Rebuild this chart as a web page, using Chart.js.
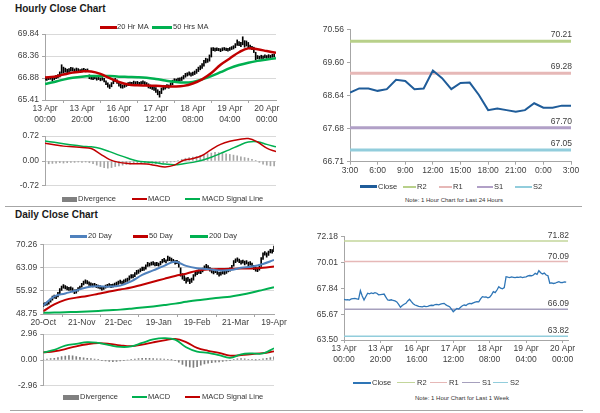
<!DOCTYPE html>
<html>
<head>
<meta charset="utf-8">
<script src="https://cdn.jsdelivr.net/npm/chart.js@4.4.1/dist/chart.umd.min.js"></script>
<style>
  body { margin: 0; width: 600px; height: 413px; background: #fff; position: relative; overflow: hidden;
         font-family: "Liberation Sans", Arial, sans-serif; }
  canvas { position: absolute; }
  .title { position: absolute; left: 15px; font-weight: bold; font-size: 10px; color: #1a1a1a; line-height: 1; }
  .lg { position: absolute; font-size: 7.5px; color: #333; line-height: 1; white-space: nowrap; }
  .mk { position: absolute; }
  .note { position: absolute; font-size: 6px; color: #333; line-height: 1; white-space: nowrap; transform: translateX(-50%); }
  .rule { position: absolute; height: 1px; background: #a6a6a6; }
</style>
</head>
<body>
<div class="title" style="top:4px">Hourly Close Chart</div>
<div class="title" style="top:210px">Daily Close Chart</div>
<div class="rule" style="top:206px;left:5px;width:577px"></div>
<div class="rule" style="top:410px;left:10px;width:573px"></div>
<div class="note" style="left:454px;top:197px">Note: 1 Hour Chart for Last 24 Hours</div>
<div class="note" style="left:462px;top:395px">Note: 1 Hour Chart for Last 1 Week</div>
<script>
// ---- hourly (last week) ----
const hourTickPos = [0, 20, 40, 60, 80, 100, 120];
const hourTickLabels = [['13 Apr', '00:00'], ['13 Apr', '20:00'], ['16 Apr', '16:00'], ['17 Apr', '12:00'],
                        ['18 Apr', '08:00'], ['19 Apr', '04:00'], ['20 Apr', '00:00']];
const hourPriceTicks = [65.41, 66.88, 68.36, 69.84];
const hourMacdTicks = [-0.72, 0.00, 0.72];

const hourLo = [66.74, 66.72, 66.78, 66.80, 66.70, 66.78, 66.84, 66.90, 66.96, 67.20,
  67.22, 67.28, 67.18, 67.26, 67.34, 67.36, 67.28, 67.36, 67.32, 67.24,
  67.30, 67.34, 67.30, 67.32, 66.84, 66.80, 66.78, 66.82, 66.74, 66.78,
  66.70, 66.74, 66.62, 66.44, 66.28, 66.18, 66.30, 66.50, 66.64, 66.52,
  66.34, 66.22, 66.20, 66.26, 66.32, 66.38, 66.44, 66.44, 66.48, 66.46,
  66.48, 66.40, 66.46, 66.50, 66.44, 66.36, 66.22, 66.18, 66.12, 66.06,
  65.92, 65.76, 65.60, 65.84, 66.08, 66.14, 66.22, 66.20, 66.30, 66.44,
  66.62, 66.62, 66.68, 66.68, 66.72, 66.82, 66.94, 67.02, 67.08, 67.02,
  67.06, 67.12, 67.20, 67.32, 67.44, 67.54, 67.68, 67.90, 67.94, 68.02,
  68.30, 68.72, 68.70, 68.72, 68.72, 68.66, 68.72, 68.76, 68.72, 68.70,
  68.74, 68.80, 68.84, 68.92, 69.08, 69.06, 69.00, 69.12, 68.96, 69.04,
  68.92, 68.84, 68.80, 68.60, 68.12, 68.18, 68.16, 68.20, 68.18, 68.24,
  68.20, 68.26, 68.24, 68.28, 68.30];
const hourHi = [66.95, 66.92, 66.98, 66.96, 66.90, 67.00, 67.06, 67.12, 67.30, 67.78,
  67.62, 67.55, 67.48, 67.52, 67.60, 67.58, 67.50, 67.56, 67.52, 67.46,
  67.50, 67.54, 67.48, 67.50, 67.10, 66.98, 66.94, 66.98, 66.92, 66.94,
  66.90, 66.92, 66.86, 66.70, 66.56, 66.44, 66.58, 66.80, 66.86, 66.76,
  66.60, 66.48, 66.42, 66.46, 66.52, 66.58, 66.62, 66.60, 66.68, 66.64,
  66.66, 66.60, 66.64, 66.70, 66.64, 66.58, 66.50, 66.42, 66.38, 66.32,
  66.24, 66.10, 66.00, 66.22, 66.40, 66.38, 66.44, 66.42, 66.56, 66.74,
  66.84, 66.82, 66.88, 66.90, 66.96, 67.06, 67.20, 67.24, 67.30, 67.24,
  67.28, 67.36, 67.48, 67.62, 67.72, 67.86, 68.08, 68.22, 68.18, 68.44,
  68.92, 68.94, 68.90, 68.92, 68.88, 68.86, 68.92, 68.94, 68.90, 68.88,
  68.94, 69.00, 69.06, 69.20, 69.45, 69.34, 69.28, 69.66, 69.40, 69.38,
  69.28, 69.10, 69.02, 68.96, 68.62, 68.40, 68.36, 68.42, 68.38, 68.44,
  68.40, 68.46, 68.42, 68.48, 68.50];
// moving averages sampled every 5 hours
const ma20Hr = [66.93, 66.98, 67.12, 67.25, 67.33, 67.33, 67.17, 66.88, 66.62, 66.45,
  66.40, 66.38, 66.36, 66.33, 66.32, 66.36, 66.52, 66.80, 67.22, 67.78,
  68.20, 68.62, 68.88, 68.82, 68.70, 68.58];
const ma50Hr = [66.48, 66.62, 66.78, 66.90, 66.98, 67.02, 67.03, 67.02, 66.98, 66.96,
  66.94, 66.90, 66.82, 66.72, 66.63, 66.58, 66.62, 66.80, 67.02, 67.28,
  67.55, 67.76, 67.92, 68.04, 68.13, 68.22];
const hourMacd = [0.51, 0.47, 0.43, 0.41, 0.39, 0.36, 0.20, 0.04, -0.04, -0.07,
  -0.08, -0.09, -0.13, -0.17, -0.12, 0.02, 0.07, 0.16, 0.33, 0.48,
  0.57, 0.62, 0.65, 0.55, 0.37, 0.27];
const hourSignal = [0.58, 0.54, 0.50, 0.46, 0.43, 0.41, 0.36, 0.27, 0.17, 0.08,
  0.00, -0.03, -0.05, -0.09, -0.11, -0.08, -0.04, 0.02, 0.11, 0.22,
  0.33, 0.45, 0.55, 0.56, 0.48, 0.41];
// divergence sampled every 2 hours
const hourDiv = [-0.07, -0.08, -0.07, -0.06, -0.05, -0.06, -0.05, -0.04, -0.04, -0.03,
  -0.04, -0.03, -0.05, -0.08, -0.12, -0.16, -0.19, -0.21, -0.19, -0.16,
  -0.14, -0.12, -0.10, -0.09, -0.08, -0.08, -0.07, -0.06, -0.06, -0.07,
  -0.08, -0.08, -0.07, -0.05, -0.03, -0.01, 0.02, 0.05, 0.08, 0.10,
  0.11, 0.13, 0.15, 0.18, 0.21, 0.23, 0.25, 0.24, 0.22, 0.21,
  0.19, 0.17, 0.15, 0.12, 0.10, 0.08, 0.05, 0.01, -0.04, -0.09,
  -0.12, -0.14, -0.14];

// ---- last 24 hours ----
const dayTickLabels = ['3:00', '6:00', '9:00', '12:00', '15:00', '18:00', '21:00', '0:00', '3:00'];
const dayCloseTicks = [66.71, 67.68, 68.64, 69.60, 70.56];
const dayClose = [68.72, 68.84, 68.84, 68.77, 68.82, 69.09, 69.06, 68.82, 68.84, 69.36,
  69.14, 68.82, 69.00, 69.01, 68.65, 68.21, 68.26, 68.21, 68.16, 68.21,
  68.41, 68.28, 68.28, 68.34, 68.34];
const dayLevels = [70.21, 69.28, 67.70, 67.05]; // R2, R1, S1, S2

// ---- last week, 1 hour close ----
const weekCloseTicks = [63.50, 65.67, 67.84, 70.01, 72.18];
const weekClose = [66.92, 66.88, 66.90, 66.86, 66.95, 66.98, 67.00, 66.96, 66.92, 67.64,
  67.20, 66.86, 67.15, 67.43, 67.38, 67.45, 67.40, 67.48, 67.43, 67.30,
  67.32, 67.34, 67.36, 67.10, 66.86, 66.84, 66.88, 66.82, 66.78, 66.70,
  66.50, 66.25, 66.40, 66.50, 66.58, 66.78, 66.92, 66.72, 66.55, 66.44,
  66.38, 66.32, 66.30, 66.28, 66.34, 66.30, 66.32, 66.38, 66.42, 66.40,
  66.48, 66.50, 66.46, 66.52, 66.55, 66.58, 66.45, 66.36, 66.30, 66.10,
  65.88, 66.02, 66.15, 66.10, 66.25, 66.38, 66.44, 66.40, 66.52, 66.58,
  66.55, 66.62, 66.68, 66.72, 66.70, 66.95, 67.14, 67.10, 67.12, 67.05,
  67.10, 67.30, 67.56, 67.48, 67.70, 67.98, 67.85, 67.80, 67.90, 68.82,
  68.78, 68.75, 68.80, 68.77, 68.74, 68.78, 68.76, 68.80, 68.75, 68.78,
  68.80, 68.88, 68.92, 68.90, 68.96, 69.10, 69.02, 69.32, 69.15, 69.05,
  69.12, 68.96, 68.90, 68.27, 68.30, 68.25, 68.27, 68.35, 68.40, 68.32,
  68.33, 68.38, 68.36];
const weekLevels = [71.82, 70.09, 66.09, 63.82]; // R2, R1, S1, S2

// ---- daily ----
const dailyTickPos = [0, 21, 41, 63, 84, 105, 126];
const dailyTickLabels = ['20-Oct', '21-Nov', '21-Dec', '19-Jan', '19-Feb', '21-Mar', '19-Apr'];
const dailyPriceTicks = [48.75, 55.92, 63.09, 70.26];
const dailyMacdTicks = [-2.96, 0.00, 2.96];
const dayLo = [51.0, 51.4, 51.5, 51.8, 52.4, 53.0, 53.6, 53.5, 54.0, 55.0,
  56.0, 56.7, 56.5, 56.2, 56.0, 56.1, 55.6, 55.0, 55.2, 55.8,
  56.4, 57.0, 57.7, 58.2, 58.0, 57.6, 57.4, 57.1, 57.3, 56.9,
  56.7, 56.5, 56.1, 56.3, 56.7, 57.0, 57.1, 56.9, 57.0, 57.3,
  57.6, 57.9, 58.2, 57.9, 58.2, 58.6, 58.8, 59.2, 59.8, 59.9,
  60.3, 61.0, 61.3, 61.7, 62.1, 62.2, 62.6, 63.4, 63.5, 63.8,
  63.9, 63.6, 63.7, 63.5, 63.9, 64.5, 64.8, 64.5, 65.1, 65.2,
  65.0, 64.6, 64.1, 64.3, 63.2, 60.4, 59.5, 59.0, 58.3, 58.8,
  58.1, 58.5, 59.2, 60.4, 60.9, 61.3, 61.2, 61.7, 62.4, 62.9,
  62.5, 62.0, 61.4, 61.1, 61.5, 61.0, 60.4, 60.7, 61.1, 61.0,
  61.3, 61.7, 62.0, 62.5, 63.5, 64.6, 65.0, 64.6, 64.1, 64.4,
  63.9, 64.2, 63.6, 63.8, 63.2, 62.4, 62.0, 61.8, 62.3, 63.4,
  65.6, 66.9, 66.3, 66.8, 67.6, 67.5, 68.0];
const dayHi = [52.1, 52.3, 52.4, 52.8, 53.5, 54.3, 54.6, 54.5, 55.4, 56.6,
  57.4, 57.8, 57.5, 57.2, 57.0, 57.1, 56.8, 56.2, 56.3, 56.9,
  57.4, 58.2, 58.9, 59.3, 59.1, 58.7, 58.4, 58.1, 58.2, 57.9,
  57.7, 57.5, 57.1, 57.3, 57.7, 57.9, 58.1, 57.9, 58.0, 58.3,
  58.6, 58.9, 59.2, 58.9, 59.3, 59.6, 59.8, 60.5, 60.9, 60.9,
  61.5, 62.2, 62.4, 62.8, 63.2, 63.2, 63.9, 64.7, 64.5, 64.8,
  64.9, 64.6, 64.7, 64.5, 65.0, 65.6, 65.9, 65.5, 66.6, 66.3,
  66.0, 65.6, 65.2, 65.3, 64.9, 63.0, 61.2, 60.6, 59.9, 60.1,
  59.5, 59.8, 60.9, 61.6, 62.1, 62.4, 62.3, 62.9, 63.6, 64.1,
  63.7, 63.1, 62.7, 62.2, 62.6, 62.2, 61.6, 61.8, 62.2, 62.0,
  62.4, 62.7, 63.0, 63.8, 65.2, 65.8, 66.1, 65.7, 65.2, 65.4,
  65.1, 65.2, 64.8, 64.9, 64.5, 63.8, 63.2, 63.0, 63.9, 66.2,
  67.6, 68.0, 67.6, 68.2, 68.7, 68.6, 69.7];
// moving averages and MACD sampled every 6 days
const ma20Day = [51.3, 54.2, 55.1, 56.0, 57.0, 57.3, 57.2, 57.5, 58.8, 60.8,
  62.2, 63.6, 64.9, 63.6, 62.9, 62.6, 62.2, 62.3, 63.0, 63.4, 64.2, 65.4];
const ma50Day = [49.6, 51.7, 53.1, 53.8, 54.3, 55.0, 55.7, 56.3, 56.9, 57.8,
  58.7, 59.6, 60.5, 61.2, 62.1, 62.5, 62.6, 62.7, 62.8, 62.8, 63.0, 63.4];
const ma200Day = [49.15, 49.2, 49.3, 49.4, 49.55, 49.7, 49.9, 50.1, 50.4, 50.75,
  51.1, 51.5, 51.95, 52.5, 53.0, 53.4, 53.8, 54.1, 54.7, 55.4, 56.2, 57.0];
const dailyMacd = [0.87, 1.15, 1.65, 1.85, 2.05, 1.95, 1.70, 1.50, 1.55, 1.95,
  2.35, 2.50, 2.32, 1.45, 0.95, 0.82, 0.55, 0.25, 0.65, 0.75, 0.75, 1.35];
const dailySignal = [0.87, 1.00, 1.25, 1.57, 1.80, 1.92, 1.85, 1.68, 1.58, 1.76,
  2.02, 2.25, 2.42, 2.05, 1.38, 1.05, 0.82, 0.50, 0.55, 0.68, 0.78, 0.98];
// divergence sampled every 2 days
const dailyDiv = [0.05, 0.10, 0.15, 0.20, 0.28, 0.38, 0.45, 0.50, 0.48, 0.40,
  0.30, 0.25, 0.20, 0.15, 0.10, 0.05, -0.05, -0.10, -0.15, -0.18,
  -0.15, -0.10, -0.05, 0.00, 0.05, 0.10, 0.15, 0.18, 0.20, 0.18,
  0.15, 0.14, 0.12, 0.10, 0.08, 0.02, -0.05, -0.25, -0.50, -0.70,
  -0.80, -0.85, -0.75, -0.60, -0.45, -0.35, -0.30, -0.25, -0.22, -0.15,
  -0.10, -0.05, 0.05, 0.12, 0.15, 0.12, 0.08, 0.05, 0.02, 0.05,
  0.12, 0.20, 0.28, 0.35];

const RED = '#c00000', GREEN = '#00b050', BLUE = '#4f81bd';
const R2C = '#b8d08a', R1C = '#e6b8b7', S1C = '#b1a0c7', S2C = '#92cddc';

Chart.defaults.font.family = '"Liberation Sans", Arial, sans-serif';
Chart.defaults.font.size = 8.5;
Chart.defaults.color = '#404040';
Chart.defaults.animation = false;
Chart.defaults.events = [];
Chart.defaults.plugins.legend.display = false;
Chart.defaults.plugins.tooltip.enabled = false;

const pts = (vals, step) => vals.map((v, i) => ({x: i * step, y: v}));
const range = (lo, hi) => lo.map((v, i) => ({x: i, y: [v, hi[i]]}));
const flat = (v, max) => [{x: 0, y: v}, {x: max, y: v}];

function line(data, color, width, tension) {
  return {type: 'line', data, borderColor: color, borderWidth: width, pointRadius: 0,
          tension: tension === undefined ? 0.4 : tension, fill: false};
}
function bar(data, color) {
  return {type: 'bar', data, backgroundColor: color, barThickness: 1};
}

function makeCanvas(left, top, w, h) {
  const c = document.createElement('canvas');
  c.width = w; c.height = h;
  c.style.left = left + 'px'; c.style.top = top + 'px';
  c.style.width = w + 'px'; c.style.height = h + 'px';
  document.body.appendChild(c);
  return c;
}

function yAxis(ticks, width, gridOn) {
  return {
    min: ticks[0], max: ticks[ticks.length - 1],
    afterBuildTicks: s => { s.ticks = ticks.map(v => ({value: v})); },
    afterFit: s => { s.width = width; },
    ticks: {callback: v => v.toFixed(2), padding: 3},
    grid: {color: '#d9d9d9', drawOnChartArea: gridOn, tickLength: 3, tickColor: '#a6a6a6'},
    border: {color: '#a6a6a6'}
  };
}
function xAxis(max, pos, labels, height) {
  return {
    type: 'linear', min: 0, max: max, offset: false,
    afterBuildTicks: s => { s.ticks = pos.map(v => ({value: v})); },
    afterFit: s => { s.height = height; },
    ticks: {callback: (v, i) => labels[i], autoSkip: false, maxRotation: 0, padding: 1,
            font: {lineHeight: 1.2}},
    grid: {drawOnChartArea: false, tickLength: 3, tickColor: '#a6a6a6'},
    border: {color: '#a6a6a6'}
  };
}
function hiddenX(max) {
  return {type: 'linear', min: 0, max: max, offset: false, display: false};
}

const levelLabels = {
  id: 'levelLabels',
  afterDatasetsDraw(chart, args, opts) {
    const {ctx, chartArea, scales} = chart;
    ctx.save();
    ctx.font = '8.5px "Liberation Sans", Arial, sans-serif';
    ctx.fillStyle = '#404040';
    ctx.textAlign = 'right';
    ctx.textBaseline = 'alphabetic';
    opts.values.forEach(v => ctx.fillText(v.toFixed(2), chartArea.right + 1, scales.y.getPixelForValue(v) - opts.gap));
    ctx.restore();
  }
};

function build(canvas, datasets, scales, padding, extra) {
  return new Chart(canvas, {
    type: 'line',
    data: {datasets},
    options: Object.assign({responsive: false, layout: {padding}, scales}, extra || {}),
    plugins: extra ? [levelLabels] : []
  });
}

// hourly price
build(makeCanvas(0, 26, 290, 100), [
  line(pts(ma20Hr, 5), RED, 2.5),
  line(pts(ma50Hr, 5), GREEN, 2.5),
  bar(range(hourLo, hourHi), '#000')
], {x: xAxis(125, hourTickPos, hourTickLabels, 26), y: yAxis(hourPriceTicks, 45, true)},
{left: 0, right: 14, top: 8, bottom: 0});

// hourly MACD
build(makeCanvas(0, 128, 290, 66), [
  line(pts(hourMacd, 5), RED, 1.5),
  line(pts(hourSignal, 5), GREEN, 1.5),
  bar(pts(hourDiv, 2), '#a6a6a6')
], {x: hiddenX(125), y: yAxis(hourMacdTicks, 45, true)},
{left: 0, right: 14, top: 7.7, bottom: 6.3});

// last 24 hours
build(makeCanvas(290, 20, 310, 165), [
  line(pts(dayClose, 1), '#1f5c99', 2, 0),
  line(flat(dayLevels[0], 24), R2C, 3),
  line(flat(dayLevels[1], 24), R1C, 3),
  line(flat(dayLevels[2], 24), S1C, 3),
  line(flat(dayLevels[3], 24), S2C, 3)
], {x: xAxis(24, [0, 3, 6, 9, 12, 15, 18, 21, 24], dayTickLabels, 23.3), y: yAxis(dayCloseTicks, 60, false)},
{left: 0, right: 29, top: 9.3, bottom: 0},
{plugins: {levelLabels: {values: dayLevels, gap: 4}}});

// last week hourly close
build(makeCanvas(290, 228, 310, 138), [
  line(pts(weekClose, 1), '#2e75b6', 1.3, 0),
  line(flat(weekLevels[0], 123), '#c3d69b', 1.5),
  line(flat(weekLevels[1], 123), R1C, 1.5),
  line(flat(weekLevels[2], 123), '#a6a0bd', 1.5),
  line(flat(weekLevels[3], 123), S2C, 1.5)
], {x: xAxis(123, hourTickPos, hourTickLabels, 26), y: yAxis(weekCloseTicks, 54, false)},
{left: 0, right: 32, top: 8.7, bottom: 0},
{plugins: {levelLabels: {values: weekLevels, gap: 3}}});

// daily price
build(makeCanvas(0, 236, 290, 92), [
  line(pts(ma20Day, 6), BLUE, 2),
  line(pts(ma50Day, 6), RED, 2),
  line(pts(ma200Day, 6), GREEN, 2),
  bar(range(dayLo, dayHi), '#000')
], {x: xAxis(126, dailyTickPos, dailyTickLabels, 14), y: yAxis(dailyPriceTicks, 43.3, true)},
{left: 0, right: 16, top: 8.3, bottom: 0});

// daily MACD
build(makeCanvas(0, 326, 290, 68), [
  line(pts(dailyMacd, 6), GREEN, 1.8),
  line(pts(dailySignal, 6), RED, 1.8),
  bar(pts(dailyDiv, 2), '#7f7f7f')
], {x: hiddenX(126), y: yAxis(dailyMacdTicks, 43.3, true)},
{left: 0, right: 16, top: 5.7, bottom: 5.7});

// legends
function legend(cy, items) {
  items.forEach(([x, w, color, text, kind, tx]) => {
    const m = document.createElement('div');
    m.className = 'mk';
    const h = kind === 'box' ? 5 : kind;
    m.style.cssText = `left:${x}px;top:${cy - h / 2}px;width:${w}px;height:${h}px;background:${color}`;
    document.body.appendChild(m);
    const t = document.createElement('div');
    t.className = 'lg';
    t.textContent = text;
    t.style.left = tx + 'px';
    t.style.top = (cy - 4) + 'px';
    document.body.appendChild(t);
  });
}
legend(27, [[100, 17, RED, '20 Hr MA', 3, 117], [152, 20, GREEN, '50 Hrs MA', 3, 173]]);
legend(199, [[62, 15, '#808080', 'Divergence', 'box', 78], [132, 15, RED, 'MACD', 2, 148],
             [185, 15, GREEN, 'MACD Signal Line', 2, 202]]);
legend(186.5, [[360, 17, '#1f5c99', 'Close', 2.5, 378], [403, 13, R2C, 'R2', 2, 417],
               [439, 13, R1C, 'R1', 2, 453], [477, 16, S1C, 'S1', 2, 494], [515, 17, S2C, 'S2', 2, 533]]);
legend(382.7, [[353, 18, '#2e75b6', 'Close', 2, 372], [397, 18, '#c3d69b', 'R2', 1.5, 417],
               [430, 17, R1C, 'R1', 1.5, 449], [462, 18, '#a6a0bd', 'S1', 1.5, 482], [493, 15, S2C, 'S2', 1.5, 510]]);
legend(236, [[70, 17, BLUE, '20 Day', 3, 88], [133, 15, RED, '50 Day', 3, 149], [190, 18, GREEN, '200 Day', 3, 209]]);
legend(397.3, [[63, 16, '#808080', 'Divergence', 'box', 80], [132, 15, GREEN, 'MACD', 2, 148],
               [185, 15, RED, 'MACD Signal Line', 2, 202]]);
</script>
</body>
</html>
